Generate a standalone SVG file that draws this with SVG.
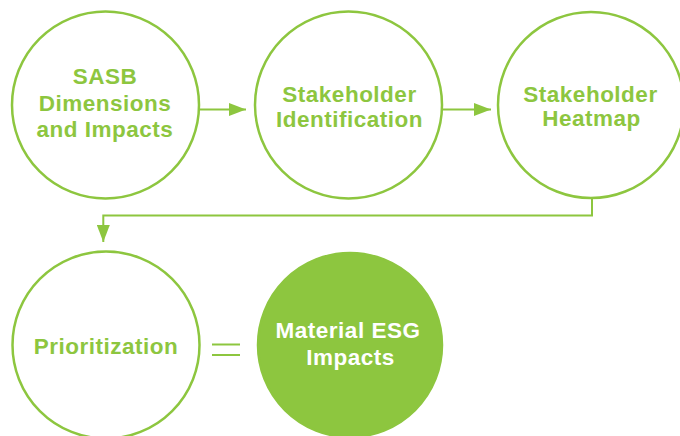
<svg xmlns="http://www.w3.org/2000/svg" width="680" height="436" viewBox="0 0 680 436">
<defs>
<style>
.ring{fill:#fff;stroke:#8DC63F;stroke-width:2.5}
.solid{fill:#8DC63F;stroke:#8DC63F;stroke-width:2.5}
.lbl{font-family:"Liberation Sans",Arial,sans-serif;font-weight:700;font-size:22.5px;letter-spacing:0.5px;fill:#8DC63F;text-anchor:middle}
.lbl-w{fill:#fff}
.conn{fill:none;stroke:#8DC63F;stroke-width:2}
</style>
<marker id="arr" viewBox="0 0 17 13" refX="17" refY="6.5" markerWidth="17" markerHeight="13" markerUnits="userSpaceOnUse" orient="auto">
<path d="M0,0 L17,6.5 L0,13 Z" fill="#8DC63F"/>
</marker>
</defs>
<rect width="680" height="436" fill="#fff"/>
<g id="connectors">
<line class="conn" x1="199" y1="109.5" x2="246" y2="109.5" marker-end="url(#arr)"/>
<line class="conn" x1="442" y1="109.5" x2="491" y2="109.5" marker-end="url(#arr)"/>
<polyline class="conn" points="592,198 592,215.5 103.3,215.5 103.3,242" marker-end="url(#arr)"/>
<g id="equals">
<line class="conn" x1="212" y1="344.5" x2="240" y2="344.5"/>
<line class="conn" x1="212" y1="355" x2="240" y2="355"/>
</g>
</g>
<g id="node-sasb">
<circle class="ring" cx="105.5" cy="105" r="93.5"/>
<text class="lbl" x="105" y="84">SASB</text>
<text class="lbl" x="105" y="110.5">Dimensions</text>
<text class="lbl" x="105" y="137">and Impacts</text>
</g>
<g id="node-identification">
<circle class="ring" cx="348.5" cy="105" r="93.5"/>
<text class="lbl" x="349.5" y="101.5">Stakeholder</text>
<text class="lbl" x="349.5" y="127">Identification</text>
</g>
<g id="node-heatmap">
<circle class="ring" cx="591" cy="105" r="93"/>
<text class="lbl" x="590.5" y="101.5">Stakeholder</text>
<text class="lbl" x="591.5" y="126">Heatmap</text>
</g>
<g id="node-prioritization">
<circle class="ring" cx="106" cy="345" r="93.5"/>
<text class="lbl" x="106" y="354.3">Prioritization</text>
</g>
<g id="node-material">
<circle class="solid" cx="350" cy="345" r="92"/>
<text class="lbl lbl-w" x="348" y="337.7">Material ESG</text>
<text class="lbl lbl-w" x="350.5" y="365">Impacts</text>
</g>
</svg>
